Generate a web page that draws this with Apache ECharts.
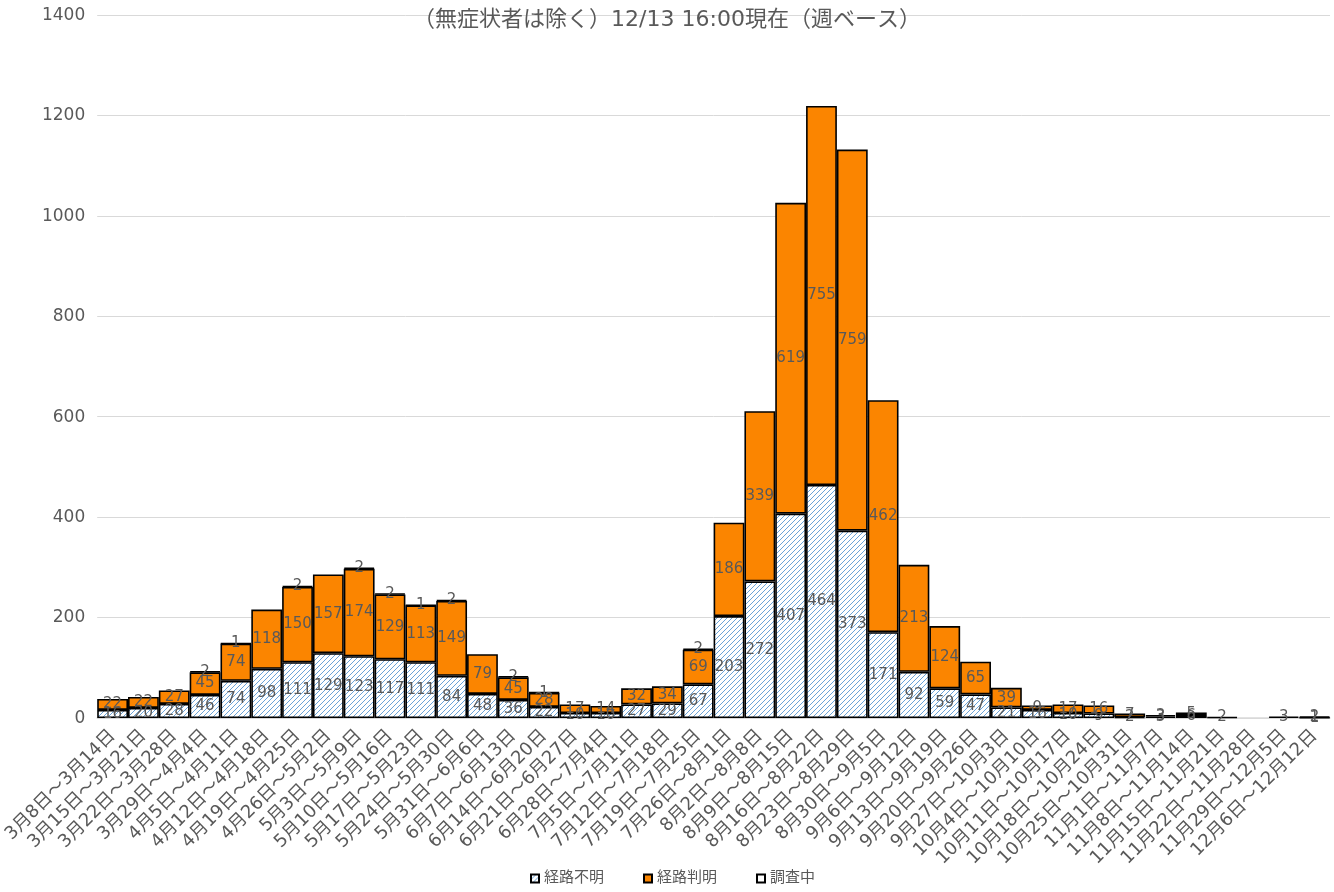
<!DOCTYPE html>
<html>
<head>
<meta charset="utf-8">
<script src="https://cdn.jsdelivr.net/npm/echarts@6/dist/echarts.min.js"></script>
<style>
  html, body { margin: 0; padding: 0; background: #fff; }
  #chart { width: 1334px; height: 892px; }
</style>
</head>
<body>
<div id="chart"></div>
<script>
// Weekly ranges (Sunday to Saturday)
const weeks = [
  '3月8日～3月14日', '3月15日～3月21日', '3月22日～3月28日', '3月29日～4月4日',
  '4月5日～4月11日', '4月12日～4月18日', '4月19日～4月25日', '4月26日～5月2日',
  '5月3日～5月9日', '5月10日～5月16日', '5月17日～5月23日', '5月24日～5月30日',
  '5月31日～6月6日', '6月7日～6月13日', '6月14日～6月20日', '6月21日～6月27日',
  '6月28日～7月4日', '7月5日～7月11日', '7月12日～7月18日', '7月19日～7月25日',
  '7月26日～8月1日', '8月2日～8月8日', '8月9日～8月15日', '8月16日～8月22日',
  '8月23日～8月29日', '8月30日～9月5日', '9月6日～9月12日', '9月13日～9月19日',
  '9月20日～9月26日', '9月27日～10月3日', '10月4日～10月10日', '10月11日～10月17日',
  '10月18日～10月24日', '10月25日～10月31日', '11月1日～11月7日', '11月8日～11月14日',
  '11月15日～11月21日', '11月22日～11月28日', '11月29日～12月5日', '12月6日～12月12日'
];

// 経路不明
const unknownRoute = [
  16, 20, 28, 46, 74, 98, 111, 129, 123, 117, 111, 84, 48, 36, 22, 10,
  10, 27, 29, 67, 203, 272, 407, 464, 373, 171, 92, 59, 47, 21, 16, 10,
  9, 2, 3, 6, 2, 0, 3, 1
];

// 経路判明
const knownRoute = [
  22, 22, 27, 45, 74, 118, 150, 157, 174, 129, 113, 149, 79, 45, 28, 17,
  14, 32, 34, 69, 186, 339, 619, 755, 759, 462, 213, 124, 65, 39, 9, 17,
  16, 7, 3, 5, 0, 0, 0, 2
];

// 調査中
const underInvestigation = [
  0, 0, 0, 2, 1, 0, 2, 0, 2, 2, 1, 2, 0, 2, 1, 0,
  0, 0, 0, 2, 0, 0, 0, 0, 0, 0, 0, 0, 0, 0, 0, 0,
  0, 0, 0, 0, 0, 0, 0, 0
];

const yTicks = { min: 0, max: 1400, interval: 200 };

// Light blue diagonal hatch for the 経路不明 segments
function hatchPattern() {
  const c = document.createElement('canvas');
  c.width = 5; c.height = 5;
  const g = c.getContext('2d');
  g.fillStyle = '#ffffff';
  g.fillRect(0, 0, 5, 5);
  g.strokeStyle = '#6aa3d8';
  g.lineWidth = 1;
  g.beginPath();
  g.moveTo(-1, 6); g.lineTo(6, -1);
  g.moveTo(-1, 1); g.lineTo(1, -1);
  g.moveTo(4, 6); g.lineTo(6, 4);
  g.stroke();
  return c;
}

// Verdana-like Latin glyphs, Japanese falls back to Noto Sans CJK
const FONT = '"DejaVu Sans", "Noto Sans CJK JP", sans-serif';
const GREY = '#595959';
const nz = arr => arr.map(v => (v === 0 ? null : v));

const labelStyle = {
  show: true,
  position: 'inside',
  color: GREY,
  fontSize: 15,
  fontFamily: FONT
};

function barSeries(name, values, fill) {
  return {
    name: name,
    type: 'bar',
    stack: 'total',
    data: nz(values),
    barCategoryGap: 0,
    itemStyle: { color: fill, borderColor: '#000', borderWidth: 1.6 },
    label: labelStyle,
    emphasis: { disabled: true }
  };
}

const chart = echarts.init(document.getElementById('chart'), null, { renderer: 'canvas' });

chart.setOption({
  animation: false,
  backgroundColor: '#ffffff',
  textStyle: { fontFamily: FONT },
  title: {
    text: '（無症状者は除く）12/13 16:00現在（週ベース）',
    left: 'center',
    top: 4,
    textStyle: { color: GREY, fontSize: 22, fontWeight: 'normal', fontFamily: FONT }
  },
  grid: { left: 97, right: 4, top: 15, bottom: 174, containLabel: false },
  legend: {
    bottom: 1,
    left: 525,
    itemWidth: 8,
    itemHeight: 8,
    itemGap: 39,
    icon: 'rect',
    textStyle: { color: GREY, fontSize: 15, fontFamily: FONT },
    data: ['経路不明', '経路判明', '調査中']
  },
  xAxis: {
    type: 'category',
    data: weeks,
    axisTick: { show: false },
    axisLine: { lineStyle: { color: '#d9d9d9', width: 1.5 } },
    axisLabel: {
      interval: 0,
      rotate: 45,
      color: GREY,
      fontSize: 18,
      fontFamily: FONT,
      margin: 15
    }
  },
  yAxis: {
    type: 'value',
    min: yTicks.min,
    max: yTicks.max,
    interval: yTicks.interval,
    axisLine: { show: false },
    axisTick: { show: false },
    splitLine: { lineStyle: { color: '#d9d9d9', width: 1 } },
    axisLabel: {
      color: GREY,
      fontSize: 17,
      fontFamily: FONT,
      margin: 12,
      verticalAlign: 'top',
      padding: [-8, 0, 0, 0],
      formatter: v => String(v)
    }
  },
  series: [
    barSeries('経路不明', unknownRoute, { image: hatchPattern(), repeat: 'repeat' }),
    barSeries('経路判明', knownRoute, '#fb8500'),
    barSeries('調査中', underInvestigation, '#ffffff')
  ]
});
</script>
</body>
</html>
